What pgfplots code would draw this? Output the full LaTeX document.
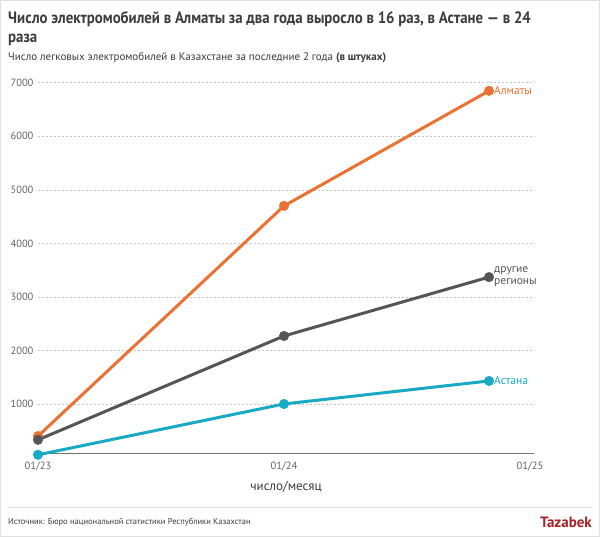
\documentclass[border=0pt]{standalone}
\usepackage{pgfplots}
\pgfplotsset{compat=1.18}
\usepackage{fontspec}
\setmainfont{PT Sans}
\newfontfamily\condfont[FakeStretch=0.9]{PT Sans}
\definecolor{corange}{RGB}{235,114,50}
\definecolor{cgray}{RGB}{85,85,85}
\definecolor{cteal}{RGB}{24,170,197}
\definecolor{ctext}{RGB}{60,60,60}
\definecolor{ctick}{RGB}{100,100,100}
\definecolor{cred}{RGB}{165,35,40}
\begin{document}
\begin{tikzpicture}[x=1pt,y=1pt]
\path[use as bounding box] (0,0) rectangle (600,537);
\fill[white] (0,0) rectangle (600,537);
\draw[black!12, line width=1pt] (0.5,0.5) rectangle (599.5,536.5);
% title
\node[anchor=north west, inner sep=0pt, align=left, text=ctext, font=\condfont\bfseries\fontsize{16.5}{19.5}\selectfont] at (8,526)
  {Число электромобилей в Алматы за два года выросло в 16 раз, в Астане — в 24\\раза};
\node[anchor=west, inner sep=0pt, text=ctext, font=\fontsize{11}{13}\selectfont] at (8,479)
  {Число легковых электромобилей в Казахстане за последние 2 года \textbf{(в штуках)}};
% footer
\draw[black!12, line width=0.8pt] (8,30) -- (592,30);
\node[anchor=west, inner sep=0pt, text=ctext, font=\fontsize{8.5}{10}\selectfont] at (8,15)
  {Источник: Бюро национальной статистики Республики Казахстан};
\node[anchor=east, inner sep=0pt, text=cred, font=\bfseries\fontsize{15}{17}\selectfont] at (592,15) {Tazabek};
\begin{axis}[
  at={(38pt,84pt)}, anchor=south west,
  scale only axis, width=496.1pt, height=370.2pt,
  xmin=0, xmax=24.2, ymin=84, ymax=7000,
  enlargelimits=false, clip=false,
  axis x line*=bottom, axis y line*=left,
  x axis line style={draw=black!55, line width=0.8pt, -},
  y axis line style={draw=none},
  xtick={0,12,24}, xticklabels={01/23,01/24,01/25},
  ytick={1000,2000,3000,4000,5000,6000,7000},
  major tick length=0pt,
  ymajorgrids, grid style={black!22, line width=0.6pt, dash pattern=on 2pt off 2pt},
  tick label style={text=ctick, font=\fontsize{10.5}{12}\selectfont},
  /pgf/number format/assume math mode=true,
  /pgf/number format/1000 sep={},
  xticklabel style={yshift=-5pt},
  yticklabel style={xshift=-1pt},
  xlabel={число/месяц},
  xlabel style={text=ctext, font=\fontsize{13}{15}\selectfont, yshift=-4pt},
  every axis plot/.append style={line width=3pt},
]
\addplot[color=corange, mark=*, mark size=4.8pt, mark options={solid, fill=corange, draw=corange, line width=0.4pt}] coordinates {(0,400) (12,4700) (22,6850)};
\addplot[color=cgray, mark=*, mark size=4.8pt, mark options={solid, fill=cgray, draw=cgray, line width=0.4pt}] coordinates {(0,330) (12,2270) (22,3370)};
\addplot[color=cteal, mark=*, mark size=4.8pt, mark options={solid, fill=cteal, draw=cteal, line width=0.4pt}] coordinates {(0,50) (12,1000) (22,1430)};
\node[anchor=west, inner sep=0pt, xshift=5pt, text=corange, font=\fontsize{11.5}{13}\selectfont] at (axis cs:22,6850) {Алматы};
\node[anchor=west, inner sep=0pt, xshift=5pt, align=left, text=cgray, font=\fontsize{11.5}{12}\selectfont] at (axis cs:22,3370) {другие\\регионы};
\node[anchor=west, inner sep=0pt, xshift=5pt, text=cteal, font=\fontsize{11.5}{13}\selectfont] at (axis cs:22,1430) {Астана};
\end{axis}
\end{tikzpicture}
\end{document}
